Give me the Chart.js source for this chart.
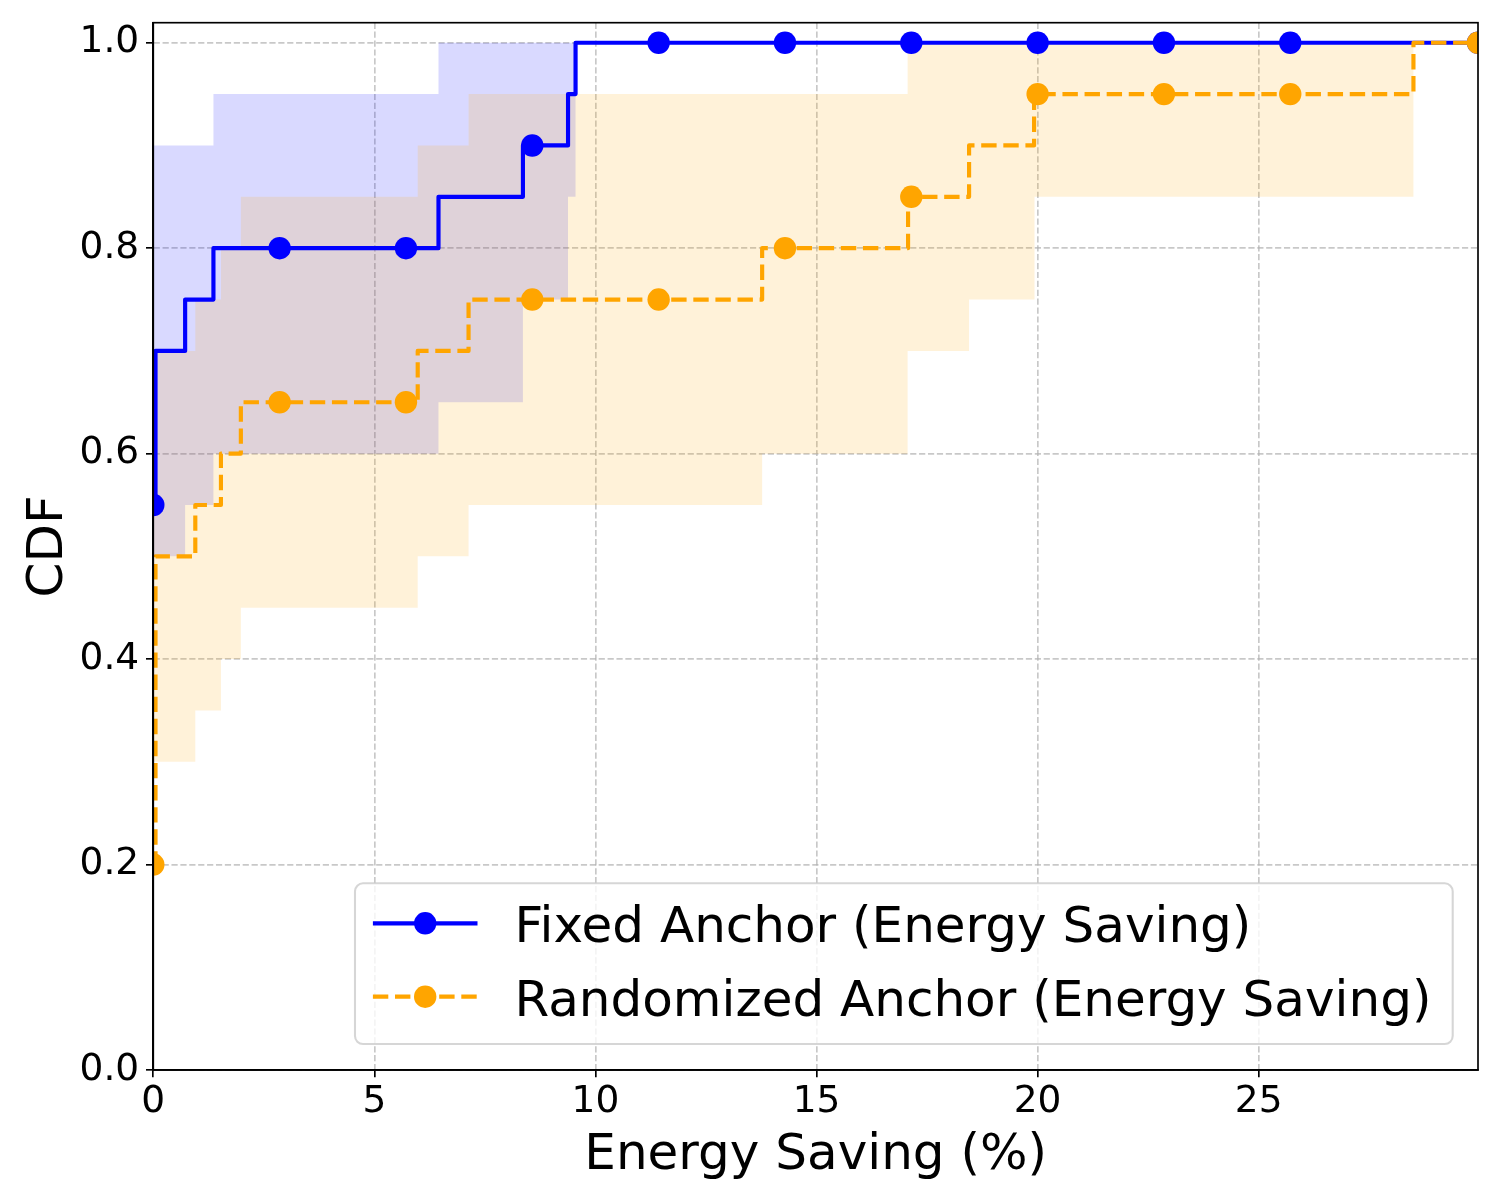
<!DOCTYPE html>
<html><head><meta charset="utf-8">
<script src="https://cdn.jsdelivr.net/npm/chart.js@4.4.1/dist/chart.umd.min.js"></script>
<style>html,body{margin:0;padding:0;background:#fff;} canvas{display:block;}</style>
</head><body>
<canvas id="c" width="1500" height="1200"></canvas>
<script>
// ---------- data ----------
const seriesLabels = ['Fixed Anchor (Energy Saving)', 'Randomized Anchor (Energy Saving)'];
const xTitle = 'Energy Saving (%)';
const yTitle = 'CDF';
const xTicks = [0, 5, 10, 15, 20, 25];
const xTickLabels = ['0', '5', '10', '15', '20', '25'];
const yTicks = [0, 0.2, 0.4, 0.6, 0.8, 1.0];
const yTickLabels = ['0.0', '0.2', '0.4', '0.6', '0.8', '1.0'];

// Fixed anchor: empirical CDF (value holds from x onward)
const fixedStepX = [0, 0.05, 0.72, 1.36, 6.45, 8.36, 9.38, 9.55];
const fixedStepY = [0.55, 0.70, 0.75, 0.80, 0.85, 0.90, 0.95, 1.00];
const fixedUpperX = [0, 1.36, 6.45];
const fixedUpperY = [0.90, 0.95, 1.00];
const fixedLowerX = [0, 0.72, 1.36, 6.45, 8.36, 9.38, 9.55];
const fixedLowerY = [0.50, 0.55, 0.60, 0.65, 0.75, 0.85, 1.00];

// Randomized anchor
const randStepX = [0, 0.05, 0.95, 1.53, 1.98, 5.98, 7.13, 13.77, 17.07, 18.45, 19.92, 28.5];
const randStepY = [0.20, 0.50, 0.55, 0.60, 0.65, 0.70, 0.75, 0.80, 0.85, 0.90, 0.95, 1.00];
const randUpperX = [0, 0.95, 1.53, 1.98, 5.98, 7.13, 17.06];
const randUpperY = [0.70, 0.75, 0.80, 0.85, 0.90, 0.95, 1.00];
const randLowerX = [0, 0.95, 1.53, 1.98, 5.98, 7.13, 13.77, 17.06, 18.45, 19.93, 28.5];
const randLowerY = [0.30, 0.35, 0.40, 0.45, 0.50, 0.55, 0.60, 0.70, 0.75, 0.85, 1.00];

// marker positions along x
const markerX = [0, 2.857, 5.714, 8.571, 11.429, 14.286, 17.143, 20.0, 22.857, 25.714, 29.96];

const xMin = 0, xMax = 29.96, yMin = 0, yMax = 1.0195;

// ---------- helpers ----------
function stepPoints(xs, ys) {
  const pts = xs.map((x, i) => ({x: x, y: ys[i]}));
  pts.push({x: xMax, y: ys[ys.length - 1]});
  return pts;
}
function stepValueAt(xs, ys, x) {
  let v = ys[0];
  for (let i = 0; i < xs.length; i++) if (xs[i] <= x) v = ys[i];
  return v;
}
function markerPoints(xs, ys) {
  return markerX.map(x => ({x: x, y: stepValueAt(xs, ys, x)}));
}

const BLUE = '#0000ff', ORANGE = '#ffa500';
const LW = 4.17, DASH = [15.4, 6.7], MR = 11.2;
const FONT = "'DejaVu Sans', 'Liberation Sans', sans-serif";

const bandBase = {stepped: true, borderWidth: 0, borderColor: 'rgba(0,0,0,0)', pointRadius: 0, pointHoverRadius: 0, clip: 0};

const datasets = [
  Object.assign({}, bandBase, {label: 'fu', data: stepPoints(fixedUpperX, fixedUpperY), fill: '+1', backgroundColor: 'rgba(0,0,255,0.15)', order: 20}),
  Object.assign({}, bandBase, {label: 'fl', data: stepPoints(fixedLowerX, fixedLowerY), fill: false, order: 21}),
  Object.assign({}, bandBase, {label: 'ru', data: stepPoints(randUpperX, randUpperY), fill: '+1', backgroundColor: 'rgba(255,165,0,0.15)', order: 18}),
  Object.assign({}, bandBase, {label: 'rl', data: stepPoints(randLowerX, randLowerY), fill: false, order: 19}),
  {label: seriesLabels[0], data: stepPoints(fixedStepX, fixedStepY), stepped: true, fill: false, borderColor: BLUE, borderWidth: LW,
   borderJoinStyle: 'round', borderCapStyle: 'butt', pointRadius: 0, pointHoverRadius: 0, clip: 0, order: 5},
  {label: 'fm', data: markerPoints(fixedStepX, fixedStepY), showLine: false, pointRadius: MR, pointHoverRadius: MR,
   pointBackgroundColor: BLUE, pointBorderWidth: 0, pointBorderColor: BLUE, clip: 0, order: 4},
  {label: seriesLabels[1], data: stepPoints(randStepX, randStepY), stepped: true, fill: false, borderColor: ORANGE, borderWidth: LW,
   borderDash: DASH, borderJoinStyle: 'round', borderCapStyle: 'butt', pointRadius: 0, pointHoverRadius: 0, clip: 0, order: 3},
  {label: 'rm', data: markerPoints(randStepX, randStepY), showLine: false, pointRadius: MR, pointHoverRadius: MR,
   pointBackgroundColor: ORANGE, pointBorderWidth: 0, pointBorderColor: ORANGE, clip: 0, order: 2}
];

const legendItems = [
  {label: seriesLabels[0], color: BLUE, dash: []},
  {label: seriesLabels[1], color: ORANGE, dash: DASH}
];

const decorPlugin = {
  id: 'decor',
  afterDatasetsDraw(chart) {
    const {ctx, chartArea: a} = chart;
    ctx.save();
    ctx.strokeStyle = '#000';
    ctx.lineWidth = 1.67;
    ctx.setLineDash([]);
    ctx.strokeRect(a.left, a.top, a.right - a.left, a.bottom - a.top);
    ctx.restore();
  },
  afterDraw(chart) {
    const {ctx, chartArea: a} = chart;
    ctx.save();
    // axis titles
    ctx.fillStyle = '#000';
    ctx.font = '50px ' + FONT;
    ctx.textAlign = 'center';
    ctx.textBaseline = 'alphabetic';
    ctx.fillText(xTitle, (a.left + a.right) / 2, 1168.5);
    ctx.save();
    ctx.translate(61.5, (a.top + a.bottom) / 2);
    ctx.rotate(-Math.PI / 2);
    ctx.fillText(yTitle, 0, 0);
    ctx.restore();

    // legend
    const bx = 355, by = 883.3, bw = 1452.7 - 355, bh = 1044 - 883.3;
    ctx.beginPath();
    ctx.roundRect(bx, by, bw, bh, 8);
    ctx.fillStyle = 'rgba(255,255,255,0.8)';
    ctx.fill();
    ctx.lineWidth = 2.08;
    ctx.strokeStyle = 'rgba(204,204,204,0.8)';
    ctx.stroke();
    const rowY = [923.3, 996.7];
    const baseY = [941.7, 1016];
    legendItems.forEach((it, i) => {
      ctx.save();
      ctx.strokeStyle = it.color;
      ctx.lineWidth = LW;
      ctx.lineCap = 'butt';
      ctx.setLineDash(it.dash);
      ctx.beginPath();
      ctx.moveTo(372.9, rowY[i]);
      ctx.lineTo(477.5, rowY[i]);
      ctx.stroke();
      ctx.setLineDash([]);
      ctx.fillStyle = it.color;
      ctx.beginPath();
      ctx.arc(425.2, rowY[i], MR, 0, Math.PI * 2);
      ctx.fill();
      ctx.restore();
      ctx.fillStyle = '#000';
      ctx.font = '50px ' + FONT;
      ctx.textAlign = 'left';
      ctx.textBaseline = 'alphabetic';
      ctx.fillText(it.label, 514.5, baseY[i]);
    });
    ctx.restore();
  }
};

const gridCommon = {
  color: 'rgba(176,176,176,0.7)',
  lineWidth: 1.67,
  drawTicks: true,
  tickLength: 7.3,
  tickColor: '#000',
  tickWidth: 1.67,
  tickBorderDash: []
};
const borderCommon = {display: true, color: '#000', width: 1.67, dash: [6.2, 2.7]};

new Chart(document.getElementById('c'), {
  type: 'line',
  data: {datasets: datasets},
  options: {
    responsive: false,
    animation: false,
    devicePixelRatio: 1,
    layout: {padding: {top: 22.7, right: 22, left: 0, bottom: 0}},
    plugins: {legend: {display: false}, tooltip: {enabled: false}, filler: {propagate: false}},
    scales: {
      x: {
        type: 'linear', min: xMin, max: xMax,
        grid: gridCommon, border: borderCommon,
        afterFit(s) { s.height = 130; s.paddingLeft = 0; s.paddingRight = 0; },
        afterBuildTicks(s) { s.ticks = xTicks.map(v => ({value: v})); },
        ticks: {color: '#000', padding: 2, maxRotation: 0, autoSkip: false,
          font: {family: FONT, size: 37.5, lineHeight: 1.2},
          callback: (v, i) => xTickLabels[i]}
      },
      y: {
        type: 'linear', min: yMin, max: yMax,
        grid: gridCommon, border: borderCommon,
        afterFit(s) { s.width = 153.3; s.paddingTop = 0; s.paddingBottom = 0; },
        afterBuildTicks(s) { s.ticks = yTicks.map(v => ({value: v})); },
        ticks: {color: '#000', padding: 6.8, autoSkip: false,
          font: {family: FONT, size: 37.5, lineHeight: 1.2},
          callback: (v, i) => yTickLabels[i]}
      }
    }
  },
  plugins: [decorPlugin]
});
</script>
</body></html>
